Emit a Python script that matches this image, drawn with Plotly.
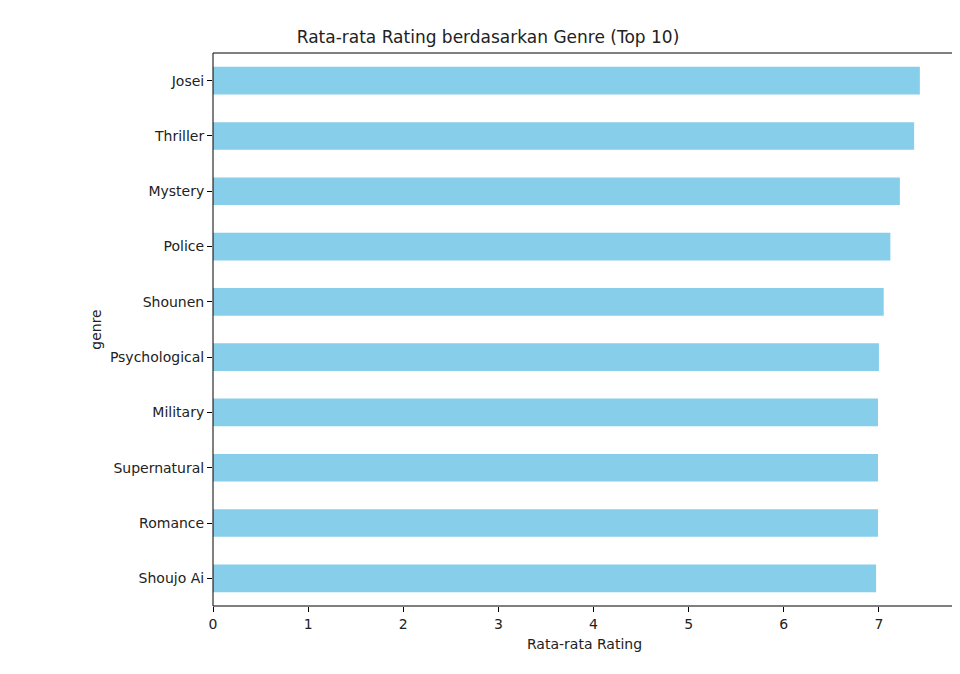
import plotly.graph_objects as go

genres = ['Josei', 'Thriller', 'Mystery', 'Police', 'Shounen', 'Psychological',
          'Military', 'Supernatural', 'Romance', 'Shoujo Ai']
ratings = [7.43, 7.37, 7.22, 7.12, 7.05, 7.00, 6.99, 6.99, 6.99, 6.97]

font_dict = dict(family='DejaVu Sans', color='#222', size=14)

fig = go.Figure()
fig.add_trace(go.Bar(x=ratings, y=genres, orientation='h',
                     marker=dict(color='skyblue', line=dict(width=0))))

# axes frame
fig.add_shape(type='rect', xref='paper', yref='paper', x0=0, x1=1, y0=0, y1=1,
              line=dict(color='black', width=1), layer='above')

fig.update_layout(
    title=dict(text='Rata-rata Rating berdasarkan Genre (Top 10)', x=0.5, xanchor='center',
               y=0.965, font=dict(family='DejaVu Sans', size=17, color='#222')),
    font=font_dict,
    plot_bgcolor='white', paper_bgcolor='white',
    autosize=False, width=960, height=674,
    margin=dict(l=205, r=12, t=45, b=76),
    bargap=0.5, showlegend=False,
)
fig.update_xaxes(title=dict(text='Rata-rata Rating', standoff=8, font=dict(size=14)),
                 range=[0, 7.81], tickvals=list(range(8)), tickfont=dict(size=14),
                 ticks='outside', ticklen=5, tickcolor='black', showgrid=False,
                 zeroline=False)
fig.update_yaxes(title=dict(text='genre', standoff=4, font=dict(size=14)),
                 autorange='reversed', tickfont=dict(size=14),
                 ticks='outside', ticklen=5, tickcolor='black', showgrid=False)

fig.write_html('out.html')
